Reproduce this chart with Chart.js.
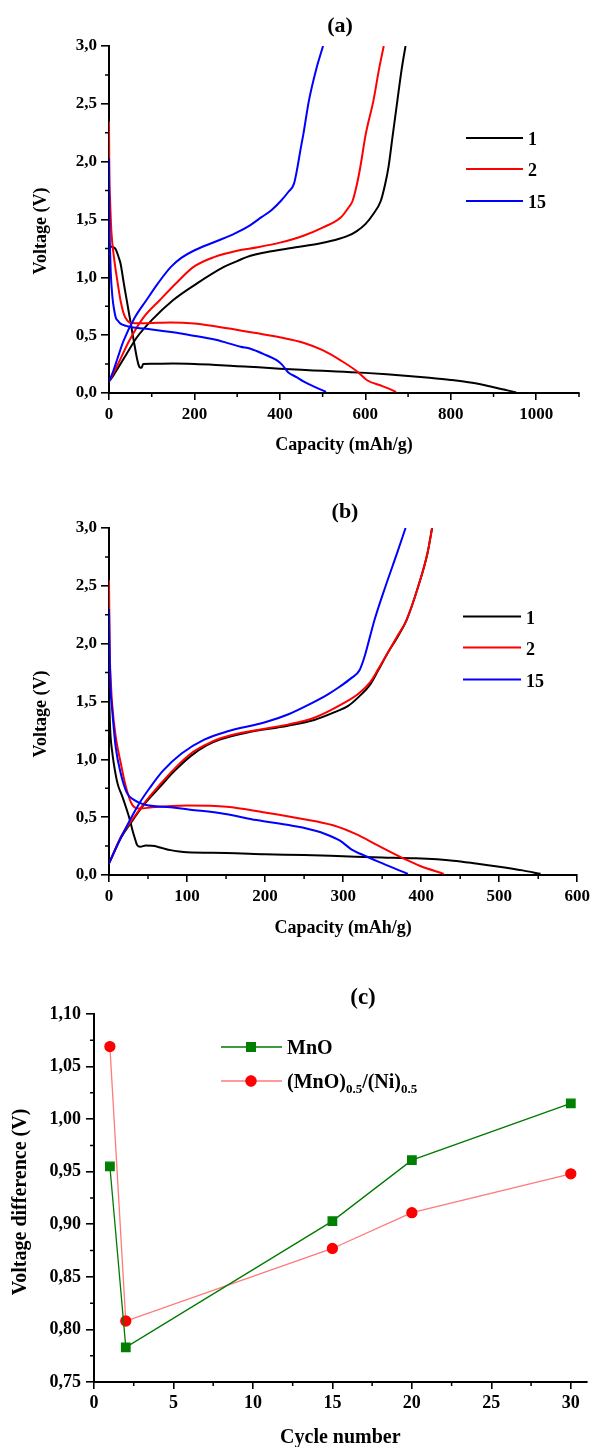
<!DOCTYPE html>
<html><head><meta charset="utf-8">
<script src="https://cdn.jsdelivr.net/npm/chart.js@4/dist/chart.umd.min.js"></script>
<style>
body{margin:0;background:#fff;width:594px;height:1447px;position:relative;overflow:hidden}
canvas{position:absolute;left:0;display:block}
</style></head><body>
<canvas id="ca" width="594" height="460" style="top:0;width:594px;height:460px"></canvas>
<canvas id="cb" width="594" height="490" style="top:460px;width:594px;height:490px"></canvas>
<canvas id="cc" width="594" height="497" style="top:950px;width:594px;height:497px"></canvas>
<script>
// ---------- shared ----------
const cycleLabels = ['1', '2', '15'];
const cycleColors = ['#000000', '#ff0000', '#0000ff'];

// ---------- panel (a) data: [capacity mAh/g, voltage V] ----------
const aCycle1Discharge = [[0,1.25],[4,1.266],[10,1.26],[16,1.24],[22,1.18],[27,1.12],[35,0.94],[43,0.77],[51,0.60],[58,0.45],[66,0.29],[70,0.235],[73,0.22],[76,0.218],[80,0.25],[100,0.253],[150,0.254],[200,0.25],[250,0.242],[300,0.232],[350,0.222],[400,0.21],[450,0.2],[500,0.192],[550,0.183],[600,0.174],[650,0.162],[700,0.148],[750,0.132],[800,0.113],[850,0.088],[900,0.05],[930,0.025],[953,0.005]];
const aCycle1Charge = [[0,0.10],[10,0.15],[20,0.21],[40,0.33],[65,0.48],[100,0.63],[149,0.80],[207,0.95],[269,1.09],[300,1.14],[322,1.175],[380,1.225],[437,1.26],[490,1.29],[526,1.32],[560,1.36],[580,1.40],[600,1.46],[619,1.55],[636,1.66],[646,1.80],[654,1.95],[663,2.2],[675,2.53],[685,2.8],[694,3.0]];
const aCycle2Discharge = [[0,2.35],[0.5,2.05],[1,1.85],[2.3,1.69],[5.5,1.40],[11.7,1.17],[19.5,0.97],[27,0.80],[35,0.68],[43,0.626],[51,0.605],[80,0.603],[145,0.61],[200,0.60],[277,0.56],[340,0.52],[402,0.48],[455,0.435],[500,0.37],[543,0.28],[583,0.18],[604,0.11],[640,0.06],[672,0.01]];
const aCycle2Charge = [[0,0.10],[10,0.17],[25,0.28],[47,0.45],[80,0.65],[118,0.80],[160,0.96],[198,1.09],[246,1.175],[300,1.23],[348,1.26],[400,1.30],[455,1.36],[500,1.43],[543,1.52],[560,1.60],[570,1.66],[580,1.80],[588,1.95],[601,2.24],[619,2.53],[632,2.8],[643,3.0]];
const aCycle15Discharge = [[0,2.03],[0.5,1.7],[1,1.5],[2,1.3],[4,1.05],[8,0.83],[12,0.72],[16,0.65],[22,0.62],[27,0.60],[40,0.58],[51,0.57],[100,0.55],[150,0.525],[191,0.50],[250,0.46],[308,0.40],[331,0.383],[360,0.34],[394,0.28],[405,0.245],[419,0.18],[440,0.135],[455,0.10],[480,0.055],[508,0.01]];
const aCycle15Charge = [[0,0.10],[10,0.19],[20,0.30],[34,0.45],[60,0.65],[87,0.80],[115,0.95],[145,1.09],[170,1.17],[198,1.23],[250,1.31],[295,1.38],[330,1.45],[357,1.52],[380,1.58],[402,1.66],[420,1.74],[433,1.81],[441,1.95],[448,2.1],[455,2.24],[468,2.53],[485,2.8],[501,3.0]];
const aXTicks = [0, 200, 400, 600, 800, 1000];
const aXMinor = [100, 300, 500, 700, 900, 1100];
const aYTicks = [0, 0.5, 1.0, 1.5, 2.0, 2.5, 3.0];
const aYMinor = [0.25, 0.75, 1.25, 1.75, 2.25, 2.75];

// ---------- panel (b) data ----------
const bCycle1Discharge = [[0,1.6],[1,1.35],[2,1.2],[4,1.07],[6,0.97],[11,0.79],[17,0.68],[23,0.56],[27,0.47],[30,0.39],[33,0.32],[36,0.26],[40,0.245],[47,0.255],[55,0.252],[62,0.245],[70,0.23],[79,0.215],[90,0.203],[100,0.196],[150,0.19],[200,0.18],[250,0.172],[300,0.162],[350,0.152],[393,0.144],[441,0.124],[470,0.10],[500,0.072],[530,0.04],[553,0.01]];
const bCycle1Charge = [[0,0.10],[16,0.33],[30,0.47],[45,0.61],[65,0.76],[84,0.90],[105,1.03],[125,1.12],[142,1.17],[176,1.23],[229,1.29],[263,1.34],[290,1.41],[306,1.46],[320,1.54],[335,1.65],[345,1.77],[358,1.93],[369,2.05],[381,2.2],[396,2.49],[408,2.78],[414,3.0]];
const bCycle2Discharge = [[0,2.55],[0.5,2.2],[1,1.92],[2.5,1.65],[4,1.48],[8.5,1.2],[15,0.97],[21,0.78],[28,0.63],[34,0.58],[40,0.575],[55,0.585],[100,0.60],[151,0.59],[200,0.54],[248,0.485],[287,0.43],[316,0.355],[345,0.254],[379,0.138],[398,0.08],[429,0.01]];
const bCycle2Charge = [[0,0.10],[16,0.34],[30,0.48],[45,0.62],[65,0.78],[84,0.92],[105,1.05],[125,1.13],[142,1.18],[170,1.23],[229,1.30],[263,1.36],[299,1.48],[320,1.57],[335,1.67],[345,1.78],[358,1.93],[369,2.06],[381,2.2],[396,2.49],[408,2.78],[414,3.0]];
const bCycle15Discharge = [[0,2.3],[0.5,2.05],[1,1.86],[2,1.6],[3.4,1.48],[8.5,1.11],[15,0.88],[23,0.71],[32,0.65],[45,0.61],[79,0.585],[104,0.565],[147,0.53],[189,0.475],[232,0.43],[248,0.41],[277,0.355],[296,0.297],[311,0.22],[330,0.16],[345,0.115],[383,0.01]];
const bCycle15Charge = [[0,0.10],[15,0.32],[38,0.61],[53,0.76],[69,0.90],[93,1.05],[122,1.17],[151,1.24],[200,1.32],[230,1.39],[258,1.48],[280,1.56],[296,1.63],[310,1.70],[321,1.77],[328,1.9],[334,2.05],[340,2.2],[354,2.49],[369,2.78],[380,3.0]];
const bXTicks = [0, 100, 200, 300, 400, 500, 600];
const bXMinor = [50, 150, 250, 350, 450, 550];
const bYTicks = [0, 0.5, 1.0, 1.5, 2.0, 2.5, 3.0];
const bYMinor = [0.25, 0.75, 1.25, 1.75, 2.25, 2.75];

// ---------- panel (c) data ----------
const cycles = [1, 2, 15, 20, 30];
const mnoDiff = [0.955, 0.783, 0.903, 0.961, 1.015];
const niDiff = [1.069, 0.808, 0.877, 0.911, 0.948];
const cSeriesLabels = ['MnO', '(MnO)0.5/(Ni)0.5'];
const niLegendParts = [['(MnO)', 0], ['0.5', 1], ['/(Ni)', 0], ['0.5', 1]];
const cXTicks = [0, 5, 10, 15, 20, 25, 30];
const cXMinor = [2.5, 7.5, 12.5, 17.5, 22.5, 27.5];
const cYTicks = [0.75, 0.80, 0.85, 0.90, 0.95, 1.00, 1.05, 1.10];
const cYMinor = [0.775, 0.825, 0.875, 0.925, 0.975, 1.025, 1.075];

// ---------- helpers ----------
const FAMILY = '"Liberation Serif", "Times New Roman", serif';
Chart.defaults.font.family = FAMILY;
Chart.defaults.font.weight = 'bold';
Chart.defaults.color = '#000';

const toPts = arr => arr.map(p => ({x: p[0], y: p[1]}));
function curve(label, color, arr) {
  return {label, data: toPts(arr), borderColor: color, backgroundColor: color,
    borderWidth: 2, pointRadius: 0, cubicInterpolationMode: 'monotone', fill: false};
}
function comma(v, d) { return Number(v).toFixed(d).replace('.', ','); }

function axis(o) {
  return {
    type: 'linear', min: o.min, max: o.max, position: o.pos,
    afterBuildTicks: s => { s.ticks = o.ticks.map(v => ({value: v})); },
    afterFit: s => { if (o.pos === 'left') s.width = o.size; else s.height = o.size; },
    ticks: {color: '#000', padding: o.pad, font: {size: o.font, weight: 'bold'},
      autoSkip: false, maxRotation: 0, callback: v => o.dec === null ? String(v) : comma(v, o.dec)},
    grid: {drawOnChartArea: false, drawTicks: true, tickLength: o.tl, color: '#000', lineWidth: 1.6},
    border: {display: true, color: '#000', width: 2},
    title: o.title ? {display: true, text: o.title, color: '#000',
      font: {size: o.tsize, weight: 'bold', lineHeight: o.tlh}, padding: {top: 0, bottom: o.tpad}} : {display: false}
  };
}

const deco = {
  id: 'deco',
  afterDraw(chart, args, o) {
    const ctx = chart.ctx, ca = chart.chartArea;
    const xs = chart.scales.x, ys = chart.scales.y;
    ctx.save();
    ctx.strokeStyle = '#000'; ctx.lineWidth = 1.5;
    ctx.beginPath();
    (o.minorX || []).forEach(v => { const p = xs.getPixelForValue(v); ctx.moveTo(p, ca.bottom); ctx.lineTo(p, ca.bottom + o.minorLen); });
    (o.minorY || []).forEach(v => { const p = ys.getPixelForValue(v); ctx.moveTo(ca.left, p); ctx.lineTo(ca.left - o.minorLen, p); });
    ctx.stroke();
    ctx.fillStyle = '#000'; ctx.textAlign = 'center'; ctx.textBaseline = 'middle';
    ctx.font = 'bold ' + o.title.size + 'px ' + FAMILY;
    ctx.fillText(o.title.text, o.title.x, o.title.y);
    ctx.save();
    ctx.translate(o.yTitle.x, o.yTitle.y); ctx.rotate(-Math.PI / 2);
    ctx.font = 'bold ' + o.yTitle.size + 'px ' + FAMILY;
    ctx.fillText(o.yTitle.text, 0, 0);
    ctx.restore();
    const L = o.legend;
    if (L && L.kind === 'lines') {
      ctx.font = 'bold ' + L.size + 'px ' + FAMILY;
      ctx.textAlign = 'left';
      L.labels.forEach((lab, i) => {
        const y = L.ys[i];
        ctx.strokeStyle = L.colors[i]; ctx.lineWidth = 2;
        ctx.beginPath(); ctx.moveTo(L.x1, y + L.lineOff); ctx.lineTo(L.x2, y + L.lineOff); ctx.stroke();
        ctx.fillStyle = '#000'; ctx.fillText(lab, L.tx, y);
      });
    }
    if (L && L.kind === 'markers') {
      chart.data.datasets.forEach((ds, i) => {
        const y = L.ys[i];
        ctx.strokeStyle = ds.borderColor; ctx.lineWidth = ds.borderWidth;
        ctx.beginPath(); ctx.moveTo(L.x1, y); ctx.lineTo(L.x2, y); ctx.stroke();
        Chart.helpers.drawPoint(ctx, {pointStyle: ds.pointStyle, rotation: 0, borderWidth: 1, radius: ds.pointRadius}, L.mx, y);
        ctx.fillStyle = ds.pointBackgroundColor; ctx.strokeStyle = ds.pointBorderColor;
        ctx.beginPath();
        if (ds.pointStyle === 'rect') { const s = ds.pointRadius * Math.SQRT1_2; ctx.rect(L.mx - s, y - s, 2 * s, 2 * s); }
        else { ctx.arc(L.mx, y, ds.pointRadius, 0, Math.PI * 2); }
        ctx.fill(); ctx.stroke();
        ctx.fillStyle = '#000'; ctx.textAlign = 'left'; ctx.textBaseline = 'alphabetic';
        if (i === 0) {
          ctx.font = 'bold ' + L.size + 'px ' + FAMILY;
          ctx.fillText(ds.label, L.tx, y + L.base);
        } else {
          let x = L.tx;
          L.parts.forEach(p => {
            ctx.font = 'bold ' + (p[1] ? L.subSize : L.size) + 'px ' + FAMILY;
            ctx.fillText(p[0], x, y + L.base + (p[1] ? L.subDrop : 0));
            x += ctx.measureText(p[0]).width;
          });
        }
      });
    }
    ctx.restore();
  }
};

// ---------- panel (a) ----------
new Chart(document.getElementById('ca'), {
  type: 'line',
  data: {datasets: [
    curve(cycleLabels[2], cycleColors[2], aCycle15Discharge), curve(cycleLabels[2], cycleColors[2], aCycle15Charge),
    curve(cycleLabels[1], cycleColors[1], aCycle2Discharge), curve(cycleLabels[1], cycleColors[1], aCycle2Charge),
    curve(cycleLabels[0], cycleColors[0], aCycle1Discharge), curve(cycleLabels[0], cycleColors[0], aCycle1Charge)
  ]},
  options: {
    responsive: false, animation: false, devicePixelRatio: 1,
    layout: {padding: {left: 0, right: 15, top: 46, bottom: 0}},
    plugins: {legend: {display: false}, tooltip: {enabled: false},
      deco: {minorX: aXMinor, minorY: aYMinor, minorLen: 4,
        title: {text: '(a)', x: 340, y: 26, size: 22},
        yTitle: {text: 'Voltage (V)', x: 41, y: 231, size: 18},
        legend: {kind: 'lines', labels: cycleLabels, colors: cycleColors, x1: 466, x2: 523, tx: 528, ys: [140, 171, 203], lineOff: -2, size: 18}}},
    scales: {
      x: axis({min: 0, max: 1100, pos: 'bottom', ticks: aXTicks, size: 67, pad: 4, font: 17, dec: null, tl: 7,
        title: 'Capacity (mAh/g)', tsize: 18, tlh: 1.2, tpad: 4}),
      y: axis({min: 0, max: 3, pos: 'left', ticks: aYTicks, size: 109, pad: 4, font: 17, dec: 1, tl: 8})
    }
  },
  plugins: [deco]
});

// ---------- panel (b) ----------
new Chart(document.getElementById('cb'), {
  type: 'line',
  data: {datasets: [
    curve(cycleLabels[2], cycleColors[2], bCycle15Discharge), curve(cycleLabels[2], cycleColors[2], bCycle15Charge),
    curve(cycleLabels[1], cycleColors[1], bCycle2Discharge), curve(cycleLabels[1], cycleColors[1], bCycle2Charge),
    curve(cycleLabels[0], cycleColors[0], bCycle1Discharge), curve(cycleLabels[0], cycleColors[0], bCycle1Charge)
  ]},
  options: {
    responsive: false, animation: false, devicePixelRatio: 1,
    layout: {padding: {left: 0, right: 15, top: 68, bottom: 0}},
    plugins: {legend: {display: false}, tooltip: {enabled: false},
      deco: {minorX: bXMinor, minorY: bYMinor, minorLen: 4,
        title: {text: '(b)', x: 345, y: 52, size: 22},
        yTitle: {text: 'Voltage (V)', x: 41, y: 254, size: 18},
        legend: {kind: 'lines', labels: cycleLabels, colors: cycleColors, x1: 463, x2: 521, tx: 526, ys: [159, 190, 222], lineOff: -2.5, size: 18}}},
    scales: {
      x: axis({min: 0, max: 600, pos: 'bottom', ticks: bXTicks, size: 75, pad: 4, font: 17, dec: null, tl: 7,
        title: 'Capacity (mAh/g)', tsize: 18, tlh: 1.2, tpad: 11}),
      y: axis({min: 0, max: 3, pos: 'left', ticks: bYTicks, size: 109, pad: 4, font: 17, dec: 1, tl: 8})
    }
  },
  plugins: [deco]
});

// ---------- panel (c) ----------
new Chart(document.getElementById('cc'), {
  type: 'line',
  data: {datasets: [
    {label: cSeriesLabels[0], data: cycles.map((c, i) => ({x: c, y: mnoDiff[i]})),
      borderColor: '#007a00', borderWidth: 1.3, pointStyle: 'rect', pointRadius: 6,
      pointBackgroundColor: '#008000', pointBorderColor: '#008000', tension: 0, fill: false},
    {label: cSeriesLabels[1], data: cycles.map((c, i) => ({x: c, y: niDiff[i]})),
      borderColor: '#ff7a7a', borderWidth: 1.3, pointStyle: 'circle', pointRadius: 5,
      pointBackgroundColor: '#ff0000', pointBorderColor: '#ff0000', tension: 0, fill: false}
  ]},
  options: {
    responsive: false, animation: false, devicePixelRatio: 1,
    layout: {padding: {left: 0, right: 0, top: 64, bottom: 0}},
    plugins: {legend: {display: false}, tooltip: {enabled: false},
      deco: {minorX: cXMinor, minorY: cYMinor, minorLen: 4,
        title: {text: '(c)', x: 363, y: 48, size: 23},
        yTitle: {text: 'Voltage difference (V)', x: 21, y: 252, size: 20},
        legend: {kind: 'markers', x1: 221, x2: 282, mx: 251, tx: 287, ys: [97, 131], size: 20, subSize: 13, subDrop: 5, base: 7, parts: niLegendParts}}},
    scales: {
      x: axis({min: 0, max: 31, pos: 'bottom', ticks: cXTicks, size: 65, pad: 4, font: 18, dec: null, tl: 7,
        title: 'Cycle number', tsize: 20, tlh: 0.9, tpad: 0}),
      y: axis({min: 0.75, max: 1.10, pos: 'left', ticks: cYTicks, size: 94, pad: 5, font: 18, dec: 2, tl: 8})
    }
  },
  plugins: [deco]
});
</script>
</body></html>
